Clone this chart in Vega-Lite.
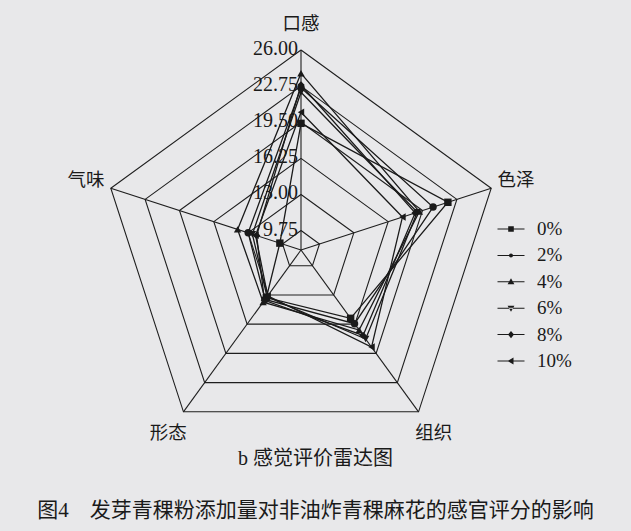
{
  "$schema": "https://vega.github.io/schema/vega-lite/v6.json",
  "width": 631,
  "height": 445,
  "autosize": {"type": "pad"},
  "padding": {"left": 0, "top": 0, "right": 0, "bottom": 12},
  "background": "#e8e8ea",
  "title": {
    "text": "b 感觉评价雷达图",
    "subtitle": "图4　发芽青稞粉添加量对非油炸青稞麻花的感官评分的影响",
    "orient": "bottom",
    "anchor": "middle",
    "offset": 4,
    "font": "Liberation Serif, Noto Sans CJK SC",
    "fontSize": 20,
    "fontWeight": "normal",
    "color": "#1a1a1a",
    "subtitleFont": "Liberation Serif, Noto Sans CJK SC",
    "subtitleFontSize": 21,
    "subtitleColor": "#1a1a1a",
    "subtitlePadding": 31
  },
  "datasets": {
    "scores": [
      {"group": "0%", "口感": 19.4, "色泽": 21.9, "组织": 15.6, "形态": 13.3, "气味": 10.0},
      {"group": "2%", "口感": 22.6, "色泽": 20.5, "组织": 16.2, "形态": 13.5, "气味": 13.0},
      {"group": "4%", "口感": 23.9, "色泽": 19.2, "组织": 16.9, "形态": 13.8, "气味": 14.0},
      {"group": "6%", "口感": 22.2, "色泽": 19.0, "组织": 17.9, "形态": 13.2, "气味": 12.6},
      {"group": "8%", "口感": 22.85, "色泽": 18.8, "组织": 17.5, "形态": 13.6, "气味": 12.2},
      {"group": "10%", "口感": 20.4, "色泽": 17.6, "组织": 18.8, "形态": 13.1, "气味": 12.3}
    ],
    "axes": [
      {"axis": "口感", "k": 0},
      {"axis": "色泽", "k": 1},
      {"axis": "组织", "k": 2},
      {"axis": "形态", "k": 3},
      {"axis": "气味", "k": 4}
    ],
    "levels": [
      {"level": 9.75, "label": "9.75", "k": [0, 1, 2, 3, 4, 5]},
      {"level": 13.0, "label": "13.00", "k": [0, 1, 2, 3, 4, 5]},
      {"level": 16.25, "label": "16.25", "k": [0, 1, 2, 3, 4, 5]},
      {"level": 19.5, "label": "19.50", "k": [0, 1, 2, 3, 4, 5]},
      {"level": 22.75, "label": "22.75", "k": [0, 1, 2, 3, 4, 5]},
      {"level": 26.0, "label": "26.00", "k": [0, 1, 2, 3, 4, 5]}
    ]
  },
  "encoding": {
    "x": {"field": "x", "type": "quantitative", "axis": null,
          "scale": {"domain": [-1.505, 1.65], "nice": false, "zero": false}},
    "y": {"field": "y", "type": "quantitative", "axis": null,
          "scale": {"domain": [-0.975, 1.25], "nice": false, "zero": false}}
  },
  "layer": [
    {
      "data": {"name": "levels"},
      "transform": [
        {"flatten": ["k"]},
        {"calculate": "PI/2 - 2*PI*datum.k/5", "as": "a"},
        {"calculate": "(datum.level - 8)/18", "as": "r"},
        {"calculate": "datum.r*cos(datum.a)", "as": "x"},
        {"calculate": "datum.r*sin(datum.a)", "as": "y"}
      ],
      "mark": {"type": "line", "color": "#1e1e1e", "strokeWidth": 1.1},
      "encoding": {
        "detail": {"field": "level"},
        "order": {"field": "k", "type": "quantitative"}
      }
    },
    {
      "data": {"name": "axes"},
      "transform": [
        {"calculate": "PI/2 - 2*PI*datum.k/5", "as": "a"},
        {"calculate": "cos(datum.a)", "as": "x"},
        {"calculate": "sin(datum.a)", "as": "y"}
      ],
      "mark": {"type": "rule", "color": "#1e1e1e", "strokeWidth": 1.1},
      "encoding": {
        "x": {"datum": 0, "type": "quantitative"},
        "y": {"datum": 0, "type": "quantitative"},
        "x2": {"field": "x"},
        "y2": {"field": "y"}
      }
    },
    {
      "data": {"name": "axes"},
      "transform": [
        {"calculate": "PI/2 - 2*PI*datum.k/5", "as": "a"},
        {"calculate": "1.13*cos(datum.a)", "as": "x"},
        {"calculate": "1.13*sin(datum.a)", "as": "y"}
      ],
      "mark": {"type": "text", "font": "Noto Sans CJK SC", "fontSize": 18.5,
               "align": "center", "baseline": "middle", "color": "#1a1a1a"},
      "encoding": {"text": {"field": "axis"}}
    },
    {
      "data": {"name": "scores"},
      "transform": [
        {"fold": ["口感", "色泽", "组织", "形态", "气味", "口感"], "as": ["axis", "value"]},
        {"window": [{"op": "row_number", "as": "n"}], "groupby": ["group"]},
        {"calculate": "PI/2 - 2*PI*(datum.n - 1)/5", "as": "a"},
        {"calculate": "(datum.value - 8)/18", "as": "r"},
        {"calculate": "datum.r*cos(datum.a)", "as": "x"},
        {"calculate": "datum.r*sin(datum.a)", "as": "y"}
      ],
      "layer": [
        {
          "mark": {"type": "line", "color": "#1a1a1a", "strokeWidth": 1.3},
          "encoding": {
            "detail": {"field": "group"},
            "order": {"field": "n", "type": "quantitative"}
          }
        },
        {
          "transform": [{"filter": "datum.n <= 5"}],
          "mark": {"type": "point", "filled": true, "opacity": 1, "color": "#1a1a1a", "size": 55},
          "encoding": {
            "shape": {
              "field": "group", "type": "nominal", "legend": null,
              "scale": {
                "domain": ["0%", "2%", "4%", "6%", "8%", "10%"],
                "range": ["square", "circle", "triangle-up", "triangle-down", "diamond", "triangle-left"]
              }
            }
          }
        },
        {
          "transform": [{"filter": "datum.n == 1"}],
          "mark": {"type": "point", "filled": true, "opacity": 0, "color": "#1a1a1a", "size": 10},
          "encoding": {
            "shape": {
              "field": "group", "type": "nominal",
              "scale": {
                "domain": ["0%", "2%", "4%", "6%", "8%", "10%"],
                "range": [
                  "M-1.35,-0.05H1.35V0.05H-1.35ZM-0.28,-0.28H0.28V0.28H-0.28Z",
                  "M-1.35,-0.05H1.35V0.05H-1.35ZM0.2,0A0.2,0.2,0,1,1,-0.2,0A0.2,0.2,0,1,1,0.2,0Z",
                  "M-1.35,-0.05H1.35V0.05H-1.35ZM0,-0.36L0.34,0.25H-0.34Z",
                  "M-1.35,-0.05H1.35V0.05H-1.35ZM0,0.36L0.34,-0.25H-0.34Z",
                  "M-1.35,-0.05H1.35V0.05H-1.35ZM0,-0.36L0.3,0L0,0.36L-0.3,0Z",
                  "M-1.35,-0.05H1.35V0.05H-1.35ZM-0.36,0L0.25,-0.34V0.34Z"
                ]
              },
              "legend": {
                "orient": "none", "legendX": 501, "legendY": 219,
                "title": null, "padding": 0,
                "symbolSize": 400, "symbolOpacity": 1,
                "symbolFillColor": "#1a1a1a", "symbolStrokeWidth": 0,
                "labelFont": "Liberation Serif", "labelFontSize": 19,
                "labelColor": "#1a1a1a", "labelOffset": 16,
                "rowPadding": 6.4
              }
            }
          }
        }
      ],
      "resolve": {"scale": {"shape": "independent"}}
    },
    {
      "data": {"name": "levels"},
      "transform": [
        {"calculate": "0", "as": "x"},
        {"calculate": "(datum.level - 8)/18", "as": "y"}
      ],
      "mark": {"type": "text", "font": "Liberation Serif", "fontSize": 20,
               "align": "right", "baseline": "middle", "dx": -3, "dy": -1, "color": "#1a1a1a"},
      "encoding": {"text": {"field": "label"}}
    }
  ],
  "config": {"view": {"stroke": null}}
}
